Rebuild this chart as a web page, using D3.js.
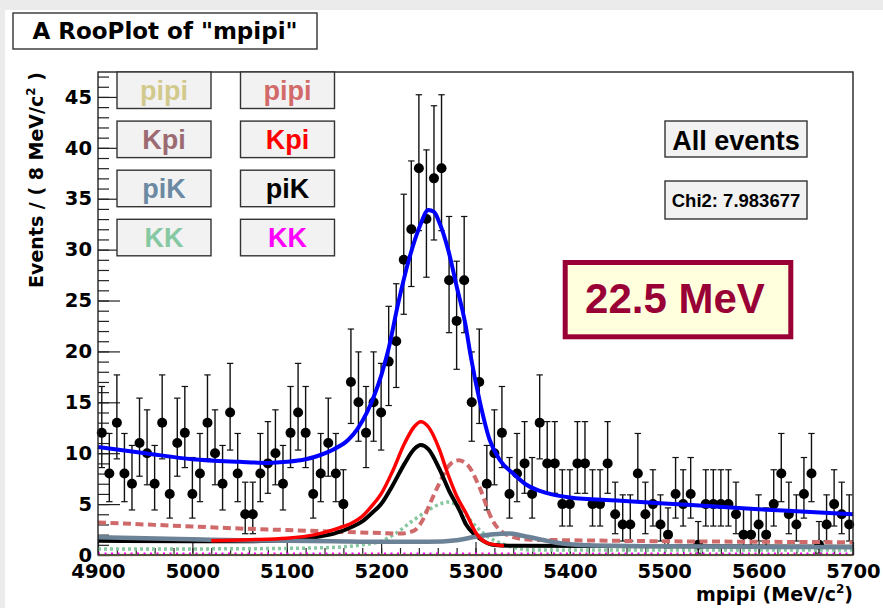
<!DOCTYPE html>
<html lang="en">
<head>
<meta charset="UTF-8">
<title>A RooPlot of "mpipi"</title>
<script src="https://cdn.jsdelivr.net/npm/d3@7"></script>
<style>
  body { margin: 0; background: #fff; }
  svg { display: block; }
  .wide { font-family: "DejaVu Sans", sans-serif; font-weight: bold; }
  .helv { font-family: "Liberation Sans", Arial, sans-serif; font-weight: bold; }
</style>
</head>
<body>
<div id="chart"></div>
<script>
// --- data ---
// events per 8 MeV bin, 4900..5700
var counts = [12,8,13,8,7,11,10,7,13,6, 11,12,6,8,13,10,7,14,8,4,
              4,8,9,10,7,12,14,12,6,8, 11,8,5,17,15,12,15,14,19,21,
              29,32,38,33,37,38,27,23,27,15, 17,7,10,12,6,8,9,6,13,9,
              9,5,5,9,9,5,5,9,4,3, 3,8,4,5,3,2,6,5,6,1,
              5,5,5,5,4,2,2,3,2,5, 8,4,3,6,8,1,3,5,4,3];
var binCenters = d3.range(4904, 5700, 8);

// fitted curves, sampled as [mpipi, events]
var totalFit = [[4900,10.6],[4950,10.0],[5000,9.4],[5050,9.15],[5080,9.05],[5100,9.15],[5120,9.4],
  [5135,9.8],[5150,10.4],[5165,11.3],[5175,12.4],[5185,14.0],[5192,15.5],[5200,17.6],[5208,20.3],
  [5218,24.7],[5230,29.2],[5241,32.3],[5250,33.9],[5256,33.7],[5262,32.6],[5271,30.0],[5280,26.4],
  [5289,22.8],[5295,19.5],[5305,14.9],[5315,11.3],[5326,9.3],[5340,8.0],[5354,6.9],[5375,6.1],
  [5400,5.65],[5450,5.35],[5500,5.05],[5550,4.8],[5600,4.5],[5650,4.25],[5700,4.0]];
var kpiSig = [[5020,1.4],[5060,1.5],[5100,1.65],[5130,2.0],[5150,2.5],[5170,3.2],[5180,3.8],
  [5190,4.8],[5200,6.0],[5212,8.2],[5225,11.0],[5235,12.6],[5242,13.1],[5250,12.6],[5262,10.3],
  [5269,8.4],[5280,5.8],[5290,4.1],[5301,2.1],[5312,1.2],[5330,0.9]];
var pikSig = [[4900,1.4],[5000,1.35],[5050,1.35],[5100,1.45],[5130,1.75],[5150,2.1],[5170,2.8],
  [5180,3.3],[5190,4.1],[5200,5.0],[5212,6.8],[5225,9.0],[5235,10.4],[5242,10.8],[5250,10.4],
  [5262,8.4],[5272,6.3],[5283,4.4],[5290,3.0],[5298,2.1],[5308,1.4],[5318,1.0],[5340,0.9],[5700,0.8]];
var pipiSig = [[4900,3.2],[4950,3.0],[5000,2.8],[5050,2.6],[5100,2.45],[5150,2.3],[5200,2.15],
  [5220,2.1],[5235,2.4],[5245,3.6],[5252,5.1],[5262,7.1],[5272,8.8],[5282,9.3],[5292,8.8],
  [5304,6.7],[5318,3.4],[5333,2.0],[5358,1.5],[5400,1.45],[5500,1.35],[5600,1.3],[5700,1.25]];
var kkBkg = [[4900,0.6],[5000,0.6],[5100,0.65],[5150,0.75],[5180,1.0],[5200,1.35],[5215,2.1],
  [5234,3.4],[5250,4.4],[5262,5.0],[5270,5.2],[5280,4.9],[5290,3.9],[5304,2.5],[5315,1.7],
  [5326,1.2],[5340,0.75],[5358,0.5],[5700,0.5]];
var pikBkg = [[4900,1.75],[4950,1.65],[5000,1.55],[5050,1.45],[5100,1.4],[5150,1.35],[5200,1.3],
  [5250,1.3],[5280,1.45],[5300,1.8],[5320,2.05],[5335,2.1],[5350,1.9],[5370,1.5],[5390,1.15],
  [5420,0.95],[5500,0.85],[5600,0.8],[5700,0.75]];
var zeroLine = [[4900,0],[5700,0]];

var legendLeft = ["pipi","Kpi","piK","KK"];
var legendRight = ["pipi","Kpi","piK","KK"];
var legendLeftColors = ["#d2ca8c","#9c6b72","#6b89a2","#86c8a2"];
var legendRightColors = ["#d26a6a","#ff0000","#000000","#ff00ff"];
var xMajorTicks = [4900,5000,5100,5200,5300,5400,5500,5600,5700];
var yMajorTicks = [0,5,10,15,20,25,30,35,40,45];

var W = 883, H = 608;
var pL = 98, pR = 853, pT = 72, pB = 555;

var svg = d3.select("#chart").append("svg")
  .attr("width", W).attr("height", H);

// canvas edge
svg.append("rect").attr("x",0).attr("y",0).attr("width",W).attr("height",H).attr("fill","#ebebeb");
svg.append("rect").attr("x",5).attr("y",10).attr("width",W-5).attr("height",H-10).attr("fill","#fff");

var x = d3.scaleLinear().domain([4900,5700]).range([pL,pR]);
var y = d3.scaleLinear().domain([0,47.45]).range([pB,pT]);

// axes (ticks point inward like ROOT)
var xMinor = d3.axisBottom(x).tickValues(d3.range(4900,5701,20)).tickSize(-7).tickFormat("");
var xMajor = d3.axisBottom(x).tickValues(xMajorTicks).tickSize(-13).tickPadding(9).tickFormat(d3.format("d"));
var yMinor = d3.axisLeft(y).tickValues(d3.range(0,48,1)).tickSize(-11).tickFormat("");
var yMajor = d3.axisLeft(y).tickValues(yMajorTicks).tickSize(-22).tickPadding(6);

[xMinor,xMajor].forEach(function(a){
  svg.append("g").attr("transform","translate(0,"+pB+")").call(a);
});
[yMinor,yMajor].forEach(function(a){
  svg.append("g").attr("transform","translate("+pL+",0)").call(a);
});
svg.selectAll(".domain").remove();
svg.selectAll(".tick line").attr("stroke","#222").attr("stroke-width",1.2);
svg.selectAll(".tick text").attr("class","wide").attr("font-size",19.5).attr("fill","#000");

// data points with poisson (68%) errors
function lowLim(n){ if(n===0) return 0; return n*Math.pow(1-1/(9*n)-1/(3*Math.sqrt(n)),3); }
function upLim(n){ var m=n+1; return m*Math.pow(1-1/(9*m)+1/(3*Math.sqrt(m)),3); }

var bins = svg.append("g").selectAll("g").data(counts).enter().append("g")
  .each(function(d,i){
    var g = d3.select(this), cx = x(binCenters[i]);
    var yl = y(lowLim(d)), yu = y(upLim(d));
    g.append("line").attr("x1",cx).attr("x2",cx).attr("y1",yl).attr("y2",Math.max(pT,yu))
      .attr("stroke","#111").attr("stroke-width",1.4);
    g.append("line").attr("x1",cx-3.2).attr("x2",cx+3.2).attr("y1",yl).attr("y2",yl)
      .attr("stroke","#111").attr("stroke-width",1.2);
    if (yu > pT) {
      g.append("line").attr("x1",cx-3.2).attr("x2",cx+3.2).attr("y1",yu).attr("y2",yu)
        .attr("stroke","#111").attr("stroke-width",1.2);
    }
    g.append("circle").attr("cx",cx).attr("cy",y(d)).attr("r",5).attr("fill","#000");
  });

// curves
var line = d3.line().x(function(d){return x(d[0]);}).y(function(d){return y(d[1]);}).curve(d3.curveMonotoneX);
var curves = svg.append("g").attr("fill","none");
curves.append("path").datum(zeroLine).attr("d",line).attr("stroke",legendLeftColors[0]).attr("stroke-width",2.5);
curves.append("path").datum(zeroLine).attr("d",line).attr("stroke",legendRightColors[3]).attr("stroke-width",2)
  .attr("stroke-dasharray","2,4.5").attr("transform","translate(0,-1.5)");
curves.append("path").datum(kkBkg).attr("d",line).attr("stroke","#88c8a0").attr("stroke-width",3.5).attr("stroke-dasharray","3,3");
curves.append("path").datum(pipiSig).attr("d",line).attr("stroke","#d06a6a").attr("stroke-width",4).attr("stroke-dasharray","8,4.5");
curves.append("path").datum(pikSig).attr("d",line).attr("stroke","#000").attr("stroke-width",4);
curves.append("path").datum(pikBkg).attr("d",line).attr("stroke","#6c8397").attr("stroke-width",4.5);
curves.append("path").datum(kpiSig).attr("d",line).attr("stroke","#ff0000").attr("stroke-width",3.5);
curves.append("path").datum(totalFit).attr("d",line).attr("stroke","#0000ff").attr("stroke-width",4);

// frame
svg.append("rect").attr("x",pL).attr("y",pT).attr("width",pR-pL).attr("height",pB-pT)
  .attr("fill","none").attr("stroke","#222").attr("stroke-width",1.4);

// legend boxes
function legendCol(labels, colors, x0){
  labels.forEach(function(t,i){
    var y0 = 72 + i*49.1;
    svg.append("rect").attr("x",x0).attr("y",y0).attr("width",94).attr("height",36.5)
      .attr("fill","#f2f2f2").attr("stroke","#333").attr("stroke-width",1.4);
    svg.append("text").attr("class","helv").attr("x",x0+47).attr("y",y0+18.25+9.5)
      .attr("text-anchor","middle").attr("font-size",27).attr("fill",colors[i]).text(t);
  });
}
legendCol(legendLeft, legendLeftColors, 117);
legendCol(legendRight, legendRightColors, 240.5);

// info boxes
svg.append("rect").attr("x",665).attr("y",121).attr("width",142).attr("height",36)
  .attr("fill","#f2f2f2").attr("stroke","#333").attr("stroke-width",1.4);
svg.append("text").attr("class","helv").attr("x",736).attr("y",150).attr("text-anchor","middle")
  .attr("font-size",27).text("All events");
svg.append("rect").attr("x",665).attr("y",181).attr("width",142).attr("height",38)
  .attr("fill","#f2f2f2").attr("stroke","#333").attr("stroke-width",1.4);
svg.append("text").attr("class","helv").attr("x",736).attr("y",207).attr("text-anchor","middle")
  .attr("font-size",18.5).text("Chi2: 7.983677");

svg.append("rect").attr("x",565.2).attr("y",262.5).attr("width",225.6).attr("height",74.3)
  .attr("fill","#ffffdd").attr("stroke","#990036").attr("stroke-width",5);
svg.append("text").attr("class","helv").attr("x",675).attr("y",313).attr("text-anchor","middle")
  .attr("font-size",42).attr("fill","#990036").text("22.5 MeV");

// title
svg.append("rect").attr("x",13).attr("y",13).attr("width",304).attr("height",36)
  .attr("fill","#fff").attr("stroke","#333").attr("stroke-width",1.4);
svg.append("text").attr("class","wide").attr("x",165).attr("y",38.5).attr("text-anchor","middle")
  .attr("font-size",23).text("A RooPlot of \"mpipi\"");

// axis titles
var yt = svg.append("text").attr("class","wide").attr("font-size",19).attr("text-anchor","middle")
  .attr("transform","translate(43,180) rotate(-90)");
yt.append("tspan").text("Events / ( 8 MeV/c");
yt.append("tspan").attr("font-size",12).attr("dy",-8).text("2");
yt.append("tspan").attr("dy",8).text(" )");

var xt = svg.append("text").attr("class","wide").attr("font-size",19).attr("text-anchor","end")
  .attr("x",853).attr("y",601);
xt.append("tspan").text("mpipi (MeV/c");
xt.append("tspan").attr("font-size",12).attr("dy",-8).text("2");
xt.append("tspan").attr("dy",8).text(")");
</script>
</body>
</html>
